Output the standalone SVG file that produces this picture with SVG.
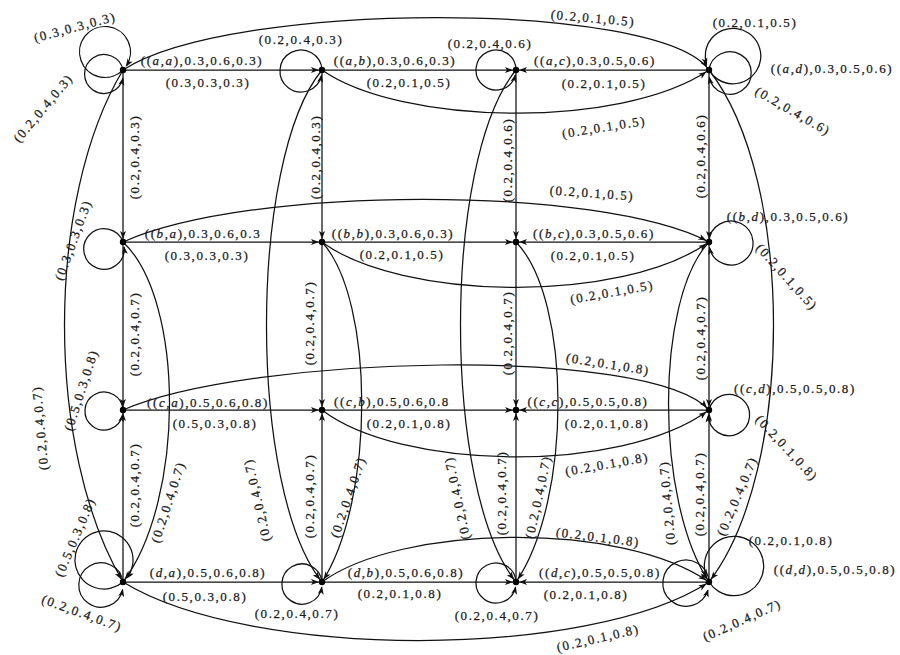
<svg xmlns="http://www.w3.org/2000/svg" width="900" height="655" viewBox="0 0 900 655">
<style>
  .bg{fill:#fff}
  .e{fill:none;stroke:#111;stroke-width:1.25}
  .dot{fill:#000}
  text{font-family:"Liberation Serif","DejaVu Serif",serif;font-size:13px;letter-spacing:1.6px;fill:#1a1a1a;stroke:#1a1a1a;stroke-width:0.25;text-anchor:middle;dominant-baseline:central}
  .i{font-style:italic}
</style>
<defs>
  <marker id="ah" viewBox="0 0 8 6" refX="11" refY="3" markerWidth="8" markerHeight="6" markerUnits="userSpaceOnUse" orient="auto" overflow="visible"><path d="M0,0 L8,3 L0,6 L2,3 z" fill="#111" stroke="none"/></marker>
  <marker id="al" viewBox="0 0 8 6" refX="7" refY="3" markerWidth="8" markerHeight="6" markerUnits="userSpaceOnUse" orient="auto" overflow="visible"><path d="M0,0 L8,3 L0,6 L2,3 z" fill="#111" stroke="none"/></marker>
</defs>
<rect class="bg" x="0" y="0" width="900" height="655"/>

<g id="connectors" class="e" marker-end="url(#ah)">
  <path d="M123,70 H322"/><path d="M322,70 H516"/><path d="M709,70 H516"/>
  <path d="M123,70 C230,0 660,0 709,70"/>
  <path d="M322,70 C400,125 620,130 709,70"/>
  <path d="M123,242 H322"/><path d="M322,242 H516"/><path d="M709,242 H516"/>
  <path d="M123,242 C250,185 600,185 709,242"/>
  <path d="M322,242 C400,300 620,305 709,242"/>
  <path d="M123,410 H322"/><path d="M322,410 H516"/><path d="M709,410 H516"/>
  <path d="M123,410 C250,355 650,345 709,410"/>
  <path d="M322,410 C400,470 620,475 709,410"/>
  <path d="M123,582 H322"/><path d="M322,582 H516"/><path d="M709,582 H516"/>
  <path d="M123,582 C250,660 590,660 709,582"/>
  <path d="M322,582 C400,525 620,520 709,582"/>
  <path d="M123,70 V242"/><path d="M123,242 V410"/><path d="M123,582 V410"/>
  <path d="M123,70 C45,200 45,450 123,582"/>
  <path d="M123,242 C185,300 185,500 123,582"/>
  <path d="M322,70 V242"/><path d="M322,242 V410"/><path d="M322,582 V410"/>
  <path d="M322,70 C248,160 248,490 322,582"/>
  <path d="M322,242 C375,300 375,500 322,582"/>
  <path d="M516,70 V242"/><path d="M516,242 V410"/><path d="M516,582 V410"/>
  <path d="M516,70 C442,160 442,490 516,582"/>
  <path d="M516,242 C572,300 572,500 516,582"/>
  <path d="M709,70 V242"/><path d="M709,242 V410"/><path d="M709,582 V410"/>
  <path d="M709,70 C795,180 795,470 709,582"/>
  <path d="M709,242 C655,300 655,500 709,582"/>
  <g marker-end="url(#al)">
    <path d="M123,70 A25.46,25.46 0 1 1 126.35,65.87"/>
    <path d="M123,70 A19.42,19.42 0 1 0 122.91,78.40"/>
    <path d="M322,70 A21.02,21.02 0 1 0 321.54,75.48"/>
    <path d="M516,70 A20,20 0 1 0 515.32,75.18"/>
    <path d="M709,70 A27.78,27.78 0 1 0 706.63,64.72"/>
    <path d="M709,70 A21.21,21.21 0 1 1 709.25,77.37"/>
    <path d="M123,242 A20.25,20.25 0 1 0 124.17,247.17"/>
    <path d="M709,242 A22.02,22.02 0 1 1 709.49,247.73"/>
    <path d="M123,410 A19.03,19.03 0 1 0 122.61,414.96"/>
    <path d="M709,410 A20.62,20.62 0 1 1 708.38,415.36"/>
    <path d="M123,582 A29.07,29.07 0 1 1 127.15,577.58"/>
    <path d="M123,582 A22.2,22.2 0 1 0 122.70,589.69"/>
    <path d="M322,582 A20.1,20.1 0 1 0 321.84,587.25"/>
    <path d="M516,582 A20.02,20.02 0 1 0 515.58,587.20"/>
    <path d="M709,582 A29.68,29.68 0 1 0 706.22,576.44"/>
    <path d="M709,582 A23.09,23.09 0 1 0 707.94,590.09"/>
  </g>
</g>

<g id="edge-labels">
  <text transform="translate(75,27) rotate(-15)">(0.3,0.3,0.3)</text>
  <text x="208" y="82">(0.3,0.3,0.3)</text>
  <text x="301" y="39">(0.2,0.4,0.3)</text>
  <text x="409" y="82">(0.2,0.1,0.5)</text>
  <text x="490" y="43">(0.2,0.4,0.6)</text>
  <text x="604" y="83">(0.2,0.1,0.5)</text>
  <text transform="translate(593,18) rotate(5)">(0.2,0.1,0.5)</text>
  <text x="755" y="22">(0.2,0.1,0.5)</text>
  <text transform="translate(793,111) rotate(30)">(0.2,0.4,0.6)</text>
  <text transform="translate(604,127) rotate(-9)">(0.2,0.1,0.5)</text>
  <text transform="translate(43,108) rotate(-50)">(0.2,0.4,0.3)</text>
  <text transform="translate(134,157) rotate(-90)">(0.2,0.4,0.3)</text>
  <text transform="translate(315,157) rotate(-90)">(0.2,0.4,0.3)</text>
  <text transform="translate(507,160) rotate(-90)">(0.2,0.4,0.6)</text>
  <text transform="translate(700,156) rotate(-90)">(0.2,0.4,0.6)</text>
  <text transform="translate(73,240) rotate(-70)">(0.3,0.3,0.3)</text>
  <text x="207" y="255">(0.3,0.3,0.3)</text>
  <text x="402" y="254">(0.2,0.1,0.5)</text>
  <text x="593" y="255">(0.2,0.1,0.5)</text>
  <text transform="translate(592,193) rotate(4)">(0.2,0.1,0.5)</text>
  <text transform="translate(787,277) rotate(48)">(0.2,0.1,0.5)</text>
  <text transform="translate(612,292) rotate(-10)">(0.2,0.1,0.5)</text>
  <text transform="translate(134,334) rotate(-90)">(0.2,0.4,0.7)</text>
  <text transform="translate(309,323) rotate(-90)">(0.2,0.4,0.7)</text>
  <text transform="translate(507,333) rotate(-90)">(0.2,0.4,0.7)</text>
  <text transform="translate(700,338) rotate(-90)">(0.2,0.4,0.7)</text>
  <text transform="translate(81,390) rotate(-72)">(0.5,0.3,0.8)</text>
  <text transform="translate(40,428) rotate(-95)">(0.2,0.4,0.7)</text>
  <text x="215" y="423">(0.5,0.3,0.8)</text>
  <text x="409" y="423">(0.2,0.1,0.8)</text>
  <text x="607" y="423">(0.2,0.1,0.8)</text>
  <text transform="translate(608,364) rotate(9)">(0.2,0.1,0.8)</text>
  <text transform="translate(787,448) rotate(47)">(0.2,0.1,0.8)</text>
  <text transform="translate(607,464) rotate(-10)">(0.2,0.1,0.8)</text>
  <text transform="translate(134,485) rotate(-90)">(0.2,0.4,0.7)</text>
  <text transform="translate(168,502) rotate(-72)">(0.2,0.4,0.7)</text>
  <text transform="translate(75,537) rotate(-67)">(0.5,0.3,0.8)</text>
  <text transform="translate(82,613) rotate(20)">(0.2,0.4,0.7)</text>
  <text x="205" y="596">(0.5,0.3,0.8)</text>
  <text transform="translate(257,500) rotate(-103)">(0.2,0.4,0.7)</text>
  <text transform="translate(309,496) rotate(-90)">(0.2,0.4,0.7)</text>
  <text transform="translate(348,497) rotate(-71)">(0.2,0.4,0.7)</text>
  <text transform="translate(457,498) rotate(-102)">(0.2,0.4,0.7)</text>
  <text transform="translate(501,493) rotate(-90)">(0.2,0.4,0.7)</text>
  <text transform="translate(538,497) rotate(-78)">(0.2,0.4,0.7)</text>
  <text x="400" y="593">(0.2,0.1,0.8)</text>
  <text x="586" y="594">(0.2,0.1,0.8)</text>
  <text x="297" y="613">(0.2,0.4,0.7)</text>
  <text x="497" y="615">(0.2,0.4,0.7)</text>
  <text transform="translate(598,537) rotate(7)">(0.2,0.1,0.8)</text>
  <text transform="translate(598,638) rotate(-13)">(0.2,0.1,0.8)</text>
  <text transform="translate(667,503) rotate(-95)">(0.2,0.4,0.7)</text>
  <text transform="translate(699,494) rotate(-90)">(0.2,0.4,0.7)</text>
  <text transform="translate(737,496) rotate(-67)">(0.2,0.4,0.7)</text>
  <text x="791" y="540">(0.2,0.1,0.8)</text>
  <text transform="translate(742,620) rotate(-24)">(0.2,0.4,0.7)</text>
</g>

<g id="n-aa"><circle class="dot" cx="123" cy="70" r="3.2"/><text x="202" y="60">((<tspan class="i">a</tspan>,<tspan class="i">a</tspan>),0.3,0.6,0.3)</text></g>
<g id="n-ab"><circle class="dot" cx="322" cy="70" r="3.2"/><text x="395" y="60">((<tspan class="i">a</tspan>,<tspan class="i">b</tspan>),0.3,0.6,0.3)</text></g>
<g id="n-ac"><circle class="dot" cx="516" cy="70" r="3.2"/><text x="595" y="60">((<tspan class="i">a</tspan>,<tspan class="i">c</tspan>),0.3,0.5,0.6)</text></g>
<g id="n-ad"><circle class="dot" cx="709" cy="70" r="3.2"/><text x="832" y="68">((<tspan class="i">a</tspan>,<tspan class="i">d</tspan>),0.3,0.5,0.6)</text></g>
<g id="n-ba"><circle class="dot" cx="123" cy="242" r="3.2"/><text x="203" y="233">((<tspan class="i">b</tspan>,<tspan class="i">a</tspan>),0.3,0.6,0.3</text></g>
<g id="n-bb"><circle class="dot" cx="322" cy="242" r="3.2"/><text x="393" y="233">((<tspan class="i">b</tspan>,<tspan class="i">b</tspan>),0.3,0.6,0.3)</text></g>
<g id="n-bc"><circle class="dot" cx="516" cy="242" r="3.2"/><text x="594" y="233">((<tspan class="i">b</tspan>,<tspan class="i">c</tspan>),0.3,0.5,0.6)</text></g>
<g id="n-bd"><circle class="dot" cx="709" cy="242" r="3.2"/><text x="788" y="216">((<tspan class="i">b</tspan>,<tspan class="i">d</tspan>),0.3,0.5,0.6)</text></g>
<g id="n-ca"><circle class="dot" cx="123" cy="410" r="3.2"/><text x="208" y="402">((<tspan class="i">c</tspan>,<tspan class="i">a</tspan>),0.5,0.6,0.8)</text></g>
<g id="n-cb"><circle class="dot" cx="322" cy="410" r="3.2"/><text x="392" y="401">((<tspan class="i">c</tspan>,<tspan class="i">b</tspan>),0.5,0.6,0.8</text></g>
<g id="n-cc"><circle class="dot" cx="516" cy="410" r="3.2"/><text x="588" y="401">((<tspan class="i">c</tspan>,<tspan class="i">c</tspan>),0.5,0.5,0.8)</text></g>
<g id="n-cd"><circle class="dot" cx="709" cy="410" r="3.2"/><text x="795" y="388">((<tspan class="i">c</tspan>,<tspan class="i">d</tspan>),0.5,0.5,0.8)</text></g>
<g id="n-da"><circle class="dot" cx="123" cy="582" r="3.2"/><text x="208" y="572">(<tspan class="i">d</tspan>,<tspan class="i">a</tspan>),0.5,0.6,0.8)</text></g>
<g id="n-db"><circle class="dot" cx="322" cy="582" r="3.2"/><text x="406" y="572">(<tspan class="i">d</tspan>,<tspan class="i">b</tspan>),0.5,0.6,0.8)</text></g>
<g id="n-dc"><circle class="dot" cx="516" cy="582" r="3.2"/><text x="600" y="572">((<tspan class="i">d</tspan>,<tspan class="i">c</tspan>),0.5,0.5,0.8)</text></g>
<g id="n-dd"><circle class="dot" cx="709" cy="582" r="3.2"/><text x="835" y="569">((<tspan class="i">d</tspan>,<tspan class="i">d</tspan>),0.5,0.5,0.8)</text></g>
</svg>
